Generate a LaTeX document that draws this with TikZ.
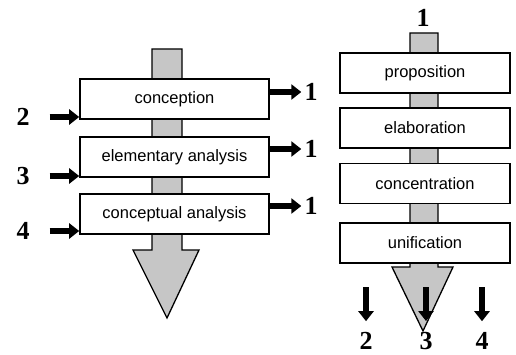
\documentclass[tikz,border=0pt]{standalone}
\usepackage{fontspec}
\setmainfont{Liberation Serif}
\setsansfont{Liberation Sans}
\usetikzlibrary{arrows.meta}

\tikzset{
    stage/.style={draw, line width=1.6pt, fill=white, inner sep=0pt,
                  minimum height=40pt,
                  font=\sffamily\fontsize{16.5}{18}\selectfont},
    num/.style={font=\bfseries\fontsize{26}{28}\selectfont, inner sep=2pt},
    flow/.style={draw, line width=1.3pt, fill=gray!45},
    feed/.style={line width=6pt, -{Triangle[length=10pt,width=15pt]}},
}

\begin{document}
\begin{tikzpicture}[x=1pt, y=-1pt]
    \useasboundingbox (0,0) rectangle (516,355);

    % left: main flow
    \draw[flow] (152,49) -- (182,49) -- (182,250) -- (199,250) -- (167,318)
        -- (133,250) -- (152,250) -- cycle;

    \node[stage, minimum width=189pt] (conc)   at (174.5,99)  {conception};
    \node[stage, minimum width=189pt] (elem)   at (174.5,157) {elementary analysis};
    \node[stage, minimum width=189pt] (concan) at (174.5,214) {conceptual analysis};

    \node[num] (in2) at (23,117) {2};
    \node[num] (in3) at (23,176) {3};
    \node[num] (in4) at (23,231) {4};

    \draw[feed] ([xshift=18pt]in2.east) -- (in2.east -| conc.west);
    \draw[feed] ([xshift=18pt]in3.east) -- (in3.east -| elem.west);
    \draw[feed] ([xshift=18pt]in4.east) -- (in4.east -| concan.west);

    \node[num] (out1) at (311,92)  {1};
    \node[num] (out2) at (311,149) {1};
    \node[num] (out3) at (311,206) {1};

    \draw[feed] (out1.west -| conc.east)   -- ([xshift=-1pt]out1.west);
    \draw[feed] (out2.west -| elem.east)   -- ([xshift=-1pt]out2.west);
    \draw[feed] (out3.west -| concan.east) -- ([xshift=-1pt]out3.west);

    % right: second flow
    \draw[flow] (410,33) -- (438,33) -- (438,267) -- (453,267) -- (423,331)
        -- (392,267) -- (410,267) -- cycle;

    \node[num] (top1) at (423,18) {1};

    \node[stage, minimum width=170pt] (prop)   at (425,73)    {proposition};
    \node[stage, minimum width=170pt] (elab)   at (425,128)   {elaboration};
    \node[stage, minimum width=170pt] (concen) at (425,183.5) {concentration};
    \node[stage, minimum width=170pt] (unif)   at (425,243)   {unification};

    \node[num] (d2) at (366,341) {2};
    \node[num] (d3) at (426,341) {3};
    \node[num] (d4) at (482,341) {4};

    \foreach \d in {d2, d3, d4}
        \draw[feed] ([yshift=43pt]\d.north) -- ([yshift=9pt]\d.north);
\end{tikzpicture}
\end{document}
